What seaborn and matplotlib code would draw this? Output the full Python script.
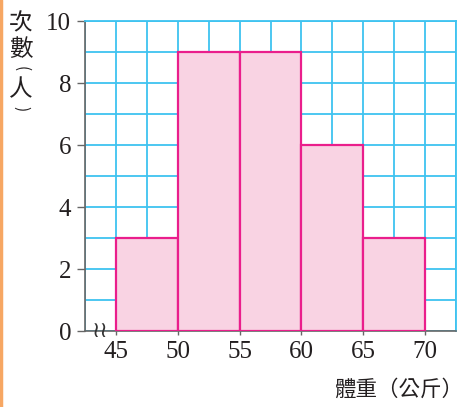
import numpy as np
import seaborn as sns
import matplotlib.pyplot as plt
from matplotlib.lines import Line2D
from matplotlib.ticker import MultipleLocator

# 體重分組與人數
bin_edges = [45, 50, 55, 60, 65, 70]
counts = [3, 9, 9, 6, 3]
bin_mids = [47.5, 52.5, 57.5, 62.5, 67.5]

x_ticks = [45, 50, 55, 60, 65, 70]
y_ticks = [0, 2, 4, 6, 8, 10]

sns.set_style("white")
plt.rcParams['font.family'] = ['Liberation Serif', 'DejaVu Serif']

grid_c = '#3ec3f0'
txt_c = '#231f20'
fig = plt.figure(figsize=(4.68, 4.07), dpi=100)
ax = fig.add_axes([0.1816, 0.1867, 0.7928, 0.7617])

sns.histplot(x=bin_mids, weights=counts, bins=bin_edges, ax=ax,
             color='#f9d3e3', edgecolor='#ea1e8c', linewidth=1.6, alpha=1, zorder=3)

ax.set_xlim(42.5, 72.5)
ax.set_ylim(0, 10)
ax.set_xticks(x_ticks)
ax.set_yticks(y_ticks)
ax.xaxis.set_minor_locator(MultipleLocator(2.5))
ax.yaxis.set_minor_locator(MultipleLocator(1))
ax.grid(which='both', color=grid_c, linewidth=1.3, zorder=0)
ax.set_axisbelow(True)
ax.tick_params(axis='y', which='major', length=6, width=1, color='#666666',
               labelsize=18, pad=4, direction='out', left=True, labelcolor=txt_c)
ax.tick_params(axis='x', which='major', length=3, width=1, color='#666666',
               labelsize=18, pad=4, direction='out', bottom=True, labelcolor=txt_c)
ax.tick_params(which='minor', length=0)
ax.set_xlabel('')
ax.set_ylabel('')

for s in ['left', 'bottom']:
    ax.spines[s].set_color('#666666')
    ax.spines[s].set_linewidth(1.2)
for s in ['top', 'right']:
    ax.spines[s].set_color(grid_c)
    ax.spines[s].set_linewidth(1.3)

# 斷軸符號
ax.text(43.75, 0, '≀≀', fontsize=16, family=['DejaVu Sans'], color='#333333',
        ha='center', va='center', zorder=5)

cjk = ['Noto Sans CJK TC', 'DejaVu Sans']
# 直書的縱軸標題
ylab_chars = ['次', '數', '(', '人', ')']
ylab_y = [24, 49, 69, 90, 109]
ylab_size = [17, 17, 11, 17, 11]
ylab_rot = [0, 0, -90, 0, -90]
for ch, yy, fs, rot in zip(ylab_chars, ylab_y, ylab_size, ylab_rot):
    fig.text(21 / 468, 1 - yy / 407, ch, family=cjk, fontsize=fs, color=txt_c,
             ha='center', va='center', rotation=rot, rotation_mode='anchor')

fig.text(463 / 468, 1 - 390 / 407, '體重（公斤）', family=cjk, fontsize=15.5,
         ha='right', va='center', color=txt_c)

fig.add_artist(Line2D([0.003, 0.003], [0, 1], color='#f7a763', linewidth=2.5,
                      transform=fig.transFigure))

fig.savefig('out.png', dpi=100)
